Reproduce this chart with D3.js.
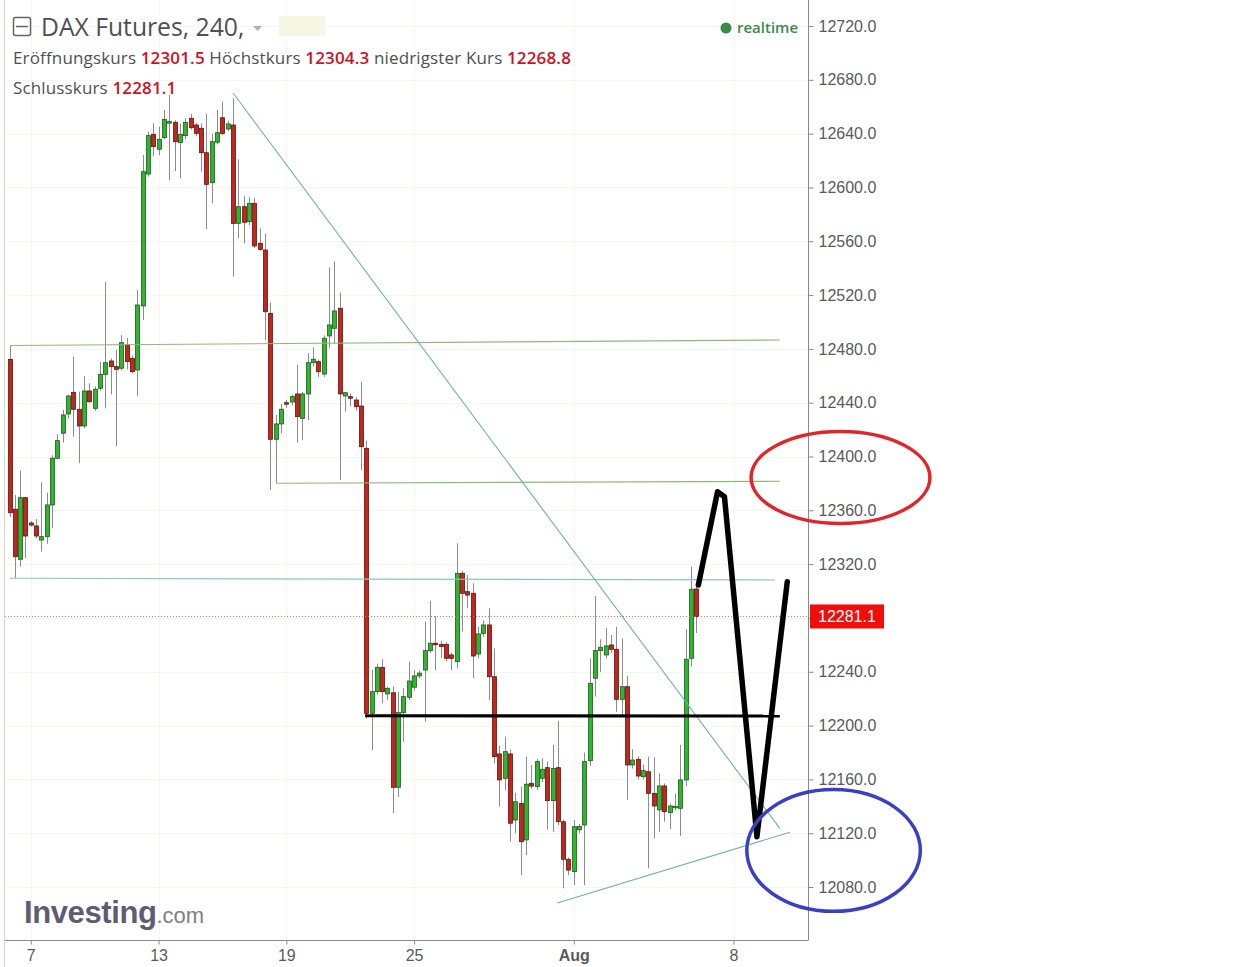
<!DOCTYPE html>
<html>
<head>
<meta charset="utf-8">
<script src="https://cdn.jsdelivr.net/npm/d3@7"></script>
<style>
  body { margin: 0; background: #fff; }
  svg { display: block; }
  .yaxis text, .xaxis text { font-family: "Liberation Sans", Arial, sans-serif; font-size: 16px; fill: #5a5a5a; }
  .hdr { font-family: "Open Sans", sans-serif; }
</style>
</head>
<body>
<script>
// 4h candles, index 0 = first bar on the left
var opens = [12472.2,12360.8,12323.6,12369.4,12350.6,12348.4,12337.9,12340.4,12364,12398.7,
  12417.3,12431.6,12447.7,12435.1,12422.7,12448.7,12435.8,12450.7,12461.1,12471,
  12466.8,12465.6,12482.9,12473,12464.3,12511.9,12610,12639.5,12628.4,12637,
  12648.4,12648.4,12633.3,12638.5,12651.4,12646.4,12644,12625.8,12603.5,12633.6,
  12651.8,12643.4,12646.4,12573.3,12585.7,12574.5,12588.2,12558.5,12553.5,12506.4,
  12412.8,12424.2,12440,12440.5,12446.5,12428.4,12446.5,12469.7,12470.5,12461.3,
  12489.6,12495.3,12510.2,12445,12444.5,12442,12437.5,12406.1,12209.1,12225.2,
  12243.3,12223.5,12224.4,12154.1,12209.6,12221,12228.5,12236.9,12241.3,12255.7,
  12261.2,12260.4,12260.4,12252.5,12247.5,12313.2,12299.5,12298.3,12253.2,12268.5,
  12274.8,12236.3,12178.9,12160.8,12178.9,12129.8,12142.2,12115,12157.1,12154.6,
  12160.8,12168.7,12144.2,12168.7,12128.5,12100.6,12091.4,12122.5,12126.1,12173.9,
  12235.2,12255.7,12252.5,12259.9,12256.7,12219.5,12228.9,12170.7,12174.9,12162,
  12165.7,12149.6,12137.3,12155.1,12135.3,12139,12138.5,12159.6,12250,12301.5];
var highs = [12482.9,12371.4,12389.5,12370,12352,12353.5,12380.8,12373.1,12401,12416.5,
  12434.6,12446,12474.2,12448.2,12459.8,12454.4,12452,12470.5,12530,12473,
  12479.2,12490.3,12488,12475,12523.8,12624.1,12641.4,12647.7,12645.2,12657.6,
  12668.7,12650,12647.7,12651.4,12654.6,12648,12647.7,12654.6,12640.2,12657.6,
  12663.7,12649.6,12666.3,12620.9,12593.6,12592.7,12592,12569.6,12565.9,12514.3,
  12430.9,12439,12442,12446,12468,12448,12476.7,12481.2,12472,12490,
  12540.6,12545,12521.8,12448,12447,12444,12455.6,12411.8,12241.3,12246,
  12249.3,12229,12229,12225.2,12227.7,12247.5,12241.3,12241,12277.2,12292.6,
  12281.4,12263,12262,12254,12335.5,12315,12311.9,12305.8,12273.5,12278,
  12287.2,12257.4,12185,12191.7,12182,12150,12154.6,12176.9,12170.6,12175,
  12175.7,12173.2,12185.6,12203.4,12130,12102,12129.8,12127,12180,12250,
  12296.3,12264.1,12272.6,12267.3,12273.5,12264.9,12236.9,12182.4,12177,12171,
  12176.9,12176.4,12164.5,12157,12142,12149.6,12185.6,12271.6,12318.1,12304.3];
var lows = [12355,12309.5,12318.1,12324.3,12348,12339,12329.3,12335,12346.6,12398,
  12410.3,12428,12414.7,12395,12421,12440,12434,12449,12435.8,12446.2,
  12407.8,12464,12464.8,12462,12445,12501.5,12608,12623.4,12624,12636,
  12605.5,12612.2,12606.8,12636,12643,12638,12611.7,12568.9,12588.2,12632,
  12639,12642,12533.7,12562.2,12558.5,12572,12555,12553,12486.6,12375.1,
  12380.1,12417.3,12436,12438,12410.3,12412.3,12427.1,12467,12459,12459,
  12480.4,12484.1,12382.5,12433.3,12437.5,12434,12390,12205,12181.8,12223,
  12216.6,12219,12134.8,12147,12188,12219,12226,12235,12202.9,12254,
  12241.3,12250,12248,12241.3,12242.6,12269.8,12287.2,12235.2,12250,12266,
  12219,12172,12139.7,12152.1,12113.7,12120,12088.9,12103.8,12153,12152,
  12158,12122.7,12121,12126,12079,12088.9,12081.4,12120,12081.4,12170,
  12221.5,12240,12250,12254,12210.3,12206.6,12144.7,12168,12160,12160,
  12093.9,12116.2,12121,12128.5,12123,12137,12117.9,12155,12243.8,12268.8];
var closes = [12358.2,12325.5,12369.4,12340.9,12349,12340.9,12340.4,12364,12398.7,12411.8,
  12430.9,12445,12435.1,12422.7,12448.7,12440.7,12450,12461.1,12469.7,12466.8,
  12464.8,12484.6,12470.5,12463,12512.6,12611.7,12638.5,12630.3,12635.8,12650.6,
  12648.9,12634,12639.5,12648.4,12644.4,12640.2,12625.8,12602.3,12634,12640.7,
  12640.2,12647.2,12573.3,12585.7,12574.1,12588.2,12556.5,12554,12507.6,12412.8,
  12424.2,12435.1,12439,12444.5,12429.6,12446.5,12469.7,12472.3,12463,12487.9,
  12497.8,12508.2,12446.5,12447.4,12443.3,12437,12407.3,12209.1,12225.2,12243.3,
  12225.2,12227.7,12154.1,12209.6,12221.5,12233.1,12236.9,12239,12255.7,12261.2,
  12260,12258.7,12250,12250,12313.2,12298.3,12297,12251.7,12268.1,12274.8,
  12236.3,12176.9,12159.6,12180.6,12127.4,12143.4,12113.7,12156.4,12155,12173.2,
  12167.5,12144.2,12168.2,12128.5,12100.6,12092.6,12124.8,12125,12173.2,12231.4,
  12255.7,12258.2,12259.2,12256.7,12219.5,12228.9,12170.7,12174.4,12162.5,12166.5,
  12149.6,12140.2,12155.1,12136,12140.2,12140,12159.6,12249.3,12301.3,12281.1];

var xTickIdx = [4, 28, 52, 76, 106, 136];
var xTickLabels = ["7", "13", "19", "25", "Aug", "8"];
var yTicks = [12080, 12120, 12160, 12200, 12240, 12280, 12320, 12360, 12400, 12440,
  12480, 12520, 12560, 12600, 12640, 12680, 12720];
var lastPrice = 12281.1;

// drawings on the chart: [bar index, price]
var trendDown = [[42, 12670.2], [144.7, 12123.6]];
var trendUp = [[102.9, 12068.1], [146.6, 12120.7]];
var greenTop = [[0.1, 12482.5], [144.7, 12486.6]];
var greenMid = [[50.1, 12380.1], [144.7, 12381.6]];
var tealLine = [[0.1, 12309.5], [143.8, 12308.2]];
var blackLine = [[66.8, 12207.3], [144.7, 12207.1]];
var zigzag = [[129.4, 12304.5], [133.0, 12373.8], [134.3, 12370.1], [140.4, 12117.4], [146.1, 12306.9]];
// ellipses: centre index, centre price, radius in bars, radius in points
var redEllipse = [156.1, 12384.4, 16.8, 34.2];
var blueEllipse = [154.8, 12107.2, 16.3, 45.3];

var width = 1237, height = 967;
var right = 808, bottom = 940;

var svg = d3.select("body").append("svg")
  .attr("width", width)
  .attr("height", height);

var x = d3.scaleLinear().domain([0, 136]).range([9.5, 733.5]);
var y = d3.scaleLinear().domain([12080, 12720]).range([887, 26]);

// faint grid
svg.append("g").selectAll("line").data(yTicks).enter().append("line")
  .attr("x1", 5).attr("x2", right)
  .attr("y1", d => Math.round(y(d)) + 0.5).attr("y2", d => Math.round(y(d)) + 0.5)
  .attr("stroke", "#f6f6ef");
svg.append("g").selectAll("line").data(xTickIdx).enter().append("line")
  .attr("x1", d => Math.round(x(d)) + 0.5).attr("x2", d => Math.round(x(d)) + 0.5)
  .attr("y1", 0).attr("y2", bottom)
  .attr("stroke", "#f6f6ef");

// left border
svg.append("line").attr("x1", 4.5).attr("x2", 4.5).attr("y1", 0).attr("y2", height)
  .attr("stroke", "#dcd2bf");

// logo
var logo = svg.append("text").attr("x", 24).attr("y", 923)
  .style("font-family", "Liberation Sans, Arial, sans-serif");
logo.append("tspan").text("Investing").style("font-size", "31px").style("font-weight", "bold")
  .style("fill", "#5d5d72").style("letter-spacing", "-0.4px");
logo.append("tspan").text(".com").style("font-size", "22px").style("fill", "#808080");

// candles
var bars = d3.range(opens.length);
var g = svg.append("g");
g.selectAll("line.wick").data(bars).enter().append("line")
  .attr("class", "wick")
  .attr("x1", i => Math.round(x(i)) + 0.5).attr("x2", i => Math.round(x(i)) + 0.5)
  .attr("y1", i => y(highs[i])).attr("y2", i => y(lows[i]))
  .attr("stroke", "#8c8c8c");
g.selectAll("rect").data(bars).enter().append("rect")
  .attr("x", i => Math.round(x(i)) - 1.5)
  .attr("width", 4)
  .attr("y", i => y(Math.max(opens[i], closes[i])))
  .attr("height", i => Math.max(1.5, Math.abs(y(opens[i]) - y(closes[i]))))
  .attr("fill", i => closes[i] >= opens[i] ? "#2fb52f" : "#c4261d")
  .attr("stroke", i => closes[i] >= opens[i] ? "#1c5a1c" : "#5e1612")
  .attr("stroke-width", 0.8);

// drawings
var line = d3.line().x(d => x(d[0])).y(d => y(d[1]));
function drawLine(pts, color, w) {
  svg.append("path").datum(pts).attr("d", line)
    .attr("fill", "none").attr("stroke", color).attr("stroke-width", w);
}
drawLine(greenTop, "#8fb77a", 1.2);
drawLine(greenMid, "#8fb77a", 1.2);
drawLine(tealLine, "#8cc7b9", 1.2);
drawLine(trendDown, "#6fb3a3", 1.1);
drawLine(trendUp, "#6fb3a3", 1.1);

svg.append("line")
  .attr("x1", 5).attr("x2", right)
  .attr("y1", y(lastPrice)).attr("y2", y(lastPrice))
  .attr("stroke", "#e06070").attr("stroke-width", 1)
  .attr("stroke-dasharray", "1,2");

drawLine(blackLine, "#000", 3.2);
svg.append("path").datum(zigzag).attr("d", line)
  .attr("fill", "none").attr("stroke", "#000").attr("stroke-width", 5.5)
  .attr("stroke-linejoin", "round").attr("stroke-linecap", "round");

// price axis
var yAxis = svg.append("g").attr("class", "yaxis")
  .attr("transform", "translate(" + (right + 0.5) + ",0)")
  .call(d3.axisRight(y).tickValues(yTicks).tickFormat(d3.format(".1f")).tickSize(5).tickPadding(5));
yAxis.select(".domain").attr("d", "M0,0V" + bottom).attr("stroke", "#8a8a8a");
yAxis.selectAll(".tick line").attr("stroke", "#8a8a8a");

// last price badge
svg.append("rect").attr("x", 810).attr("y", y(lastPrice) - 12).attr("width", 74).attr("height", 24)
  .attr("fill", "#f20d0d");
svg.append("text").attr("x", 818).attr("y", y(lastPrice) + 6)
  .text(d3.format(".1f")(lastPrice))
  .style("font-family", "Liberation Sans, Arial, sans-serif").style("font-size", "16px").style("fill", "#fff");

// time axis
var xAxis = svg.append("g").attr("class", "xaxis")
  .attr("transform", "translate(0," + (bottom + 0.5) + ")")
  .call(d3.axisBottom(x).tickValues(xTickIdx).tickFormat((d, i) => xTickLabels[i]).tickSize(4).tickPadding(5));
xAxis.select(".domain").attr("d", "M5,0H" + (right + 0.5)).attr("stroke", "#8a8a8a");
xAxis.selectAll(".tick line").attr("stroke", "#8a8a8a");
xAxis.selectAll(".tick text").style("font-weight", (d, i) => xTickLabels[i] === "Aug" ? "bold" : "normal");

// hand-drawn circles
function drawEllipse(e, color) {
  svg.append("ellipse")
    .attr("cx", x(e[0])).attr("cy", y(e[1]))
    .attr("rx", x(e[0] + e[2]) - x(e[0])).attr("ry", y(e[1] - e[3]) - y(e[1]))
    .attr("fill", "none").attr("stroke", color).attr("stroke-width", 3.5);
}
drawEllipse(redEllipse, "#e0262b");
drawEllipse(blueEllipse, "#3a3fc4");

// header
var hdr = svg.append("g").attr("class", "hdr");
hdr.append("rect").attr("x", 13.5).attr("y", 17.5).attr("width", 17).attr("height", 18)
  .attr("fill", "none").attr("stroke", "#666").attr("stroke-width", 1.5).attr("rx", 2);
hdr.append("line").attr("x1", 16).attr("x2", 28).attr("y1", 26.5).attr("y2", 26.5)
  .attr("stroke", "#666").attr("stroke-width", 1.5);
hdr.append("text").attr("x", 41).attr("y", 36).text("DAX Futures, 240,")
  .style("font-size", "24.7px").style("fill", "#505050");
hdr.append("path").attr("d", "M253,26 L262,26 L257.5,31 Z").attr("fill", "#b0b0b0");
hdr.append("rect").attr("x", 279).attr("y", 16).attr("width", 46).attr("height", 20)
  .attr("fill", "#f7f5e4");

var labels1 = [["Eröffnungskurs ", "#505050"], ["12301.5 ", "#d0101e"], ["Höchstkurs ", "#505050"],
  ["12304.3 ", "#d0101e"], ["niedrigster Kurs ", "#505050"], ["12268.8", "#d0101e"]];
var t1 = hdr.append("text").attr("x", 13).attr("y", 64).style("font-size", "17px")
  .style("letter-spacing", "0.15px");
labels1.forEach(d => t1.append("tspan").text(d[0]).style("fill", d[1])
  .style("font-weight", d[1] === "#d0101e" ? "600" : "normal"));
var t2 = hdr.append("text").attr("x", 13).attr("y", 94).style("font-size", "17px")
  .style("letter-spacing", "0.15px");
t2.append("tspan").text("Schlusskurs ").style("fill", "#505050");
t2.append("tspan").text("12281.1").style("fill", "#d0101e").style("font-weight", "600");

svg.append("circle").attr("cx", 726).attr("cy", 28).attr("r", 5.5).attr("fill", "#3b8a48");
svg.append("text").attr("x", 737).attr("y", 33).text("realtime")
  .attr("class", "hdr").style("font-size", "15px").style("fill", "#3b8a48").style("font-weight", "600");
</script>
</body>
</html>
